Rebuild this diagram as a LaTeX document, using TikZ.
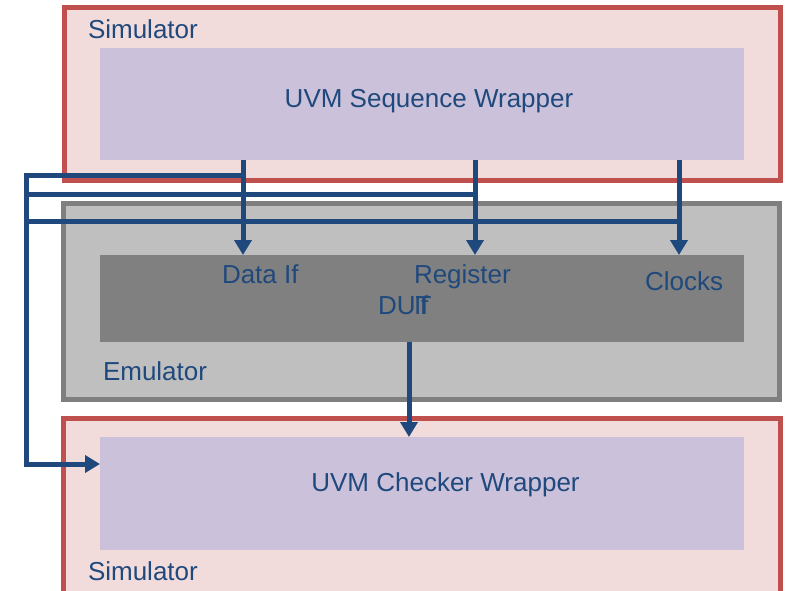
\documentclass[tikz,border=0pt]{standalone}
\usepackage{fontspec}
\setmainfont{Liberation Sans}
\usetikzlibrary{arrows.meta}
\definecolor{simfill}{RGB}{242,220,219}
\definecolor{simdraw}{RGB}{192,80,77}
\definecolor{lav}{RGB}{204,193,218}
\definecolor{emufill}{RGB}{191,191,191}
\definecolor{emudraw}{RGB}{127,127,127}
\definecolor{dutfill}{RGB}{128,128,128}
\definecolor{navy}{RGB}{31,73,125}
\begin{document}
\begin{tikzpicture}[x=1pt,y=-1pt,
  every node/.style={inner sep=0pt,outer sep=0pt},
  simbox/.style={rectangle,draw=simdraw,fill=simfill,line width=5pt},
  lavbox/.style={rectangle,fill=lav},
  emubox/.style={rectangle,draw=emudraw,fill=emufill,line width=5pt},
  dutbox/.style={rectangle,fill=dutfill},
  lbl/.style={text=navy,font=\fontsize{26}{31}\selectfont},
  conn/.style={draw=navy,line width=5pt,line join=miter},
  arr/.style={conn,-{Triangle[width=17pt,length=15pt]}}]
\useasboundingbox (0,0) rectangle (789,590);
\begin{scope}
\clip (0,0) rectangle (789,590);
% boxes
\node[simbox,minimum width=716pt,minimum height=173pt] (simtop) at (422.5,94) {};
\node[lavbox,minimum width=644pt,minimum height=112pt] (seq) at (422,104) {};
\node[emubox,minimum width=716pt,minimum height=196pt] (emu) at (421.5,301.5) {};
\node[dutbox,minimum width=644pt,minimum height=87pt] (dut) at (422,298.5) {};
\node[simbox,minimum width=717pt,minimum height=190pt] (simbot) at (421.5,513) {};
\node[lavbox,minimum width=644pt,minimum height=113pt] (chk) at (422,493.5) {};
\end{scope}
% texts
\node[lbl,anchor=base west] (tsim1) at (88,38) {Simulator};
\node[lbl,anchor=base] (tseq) at (429,107) {UVM Sequence Wrapper};
\node[lbl,anchor=base west] (tdata) at (222,283) {Data If};
\node[lbl,anchor=base west] (treg) at (414,283) {Register};
\node[lbl,anchor=base west] (tdut) at (378,314) {DUT};
\node[lbl,anchor=base west] (tif) at (414,314) {If};
\node[lbl,anchor=base west] (tclk) at (645,290) {Clocks};
\node[lbl,anchor=base west] (temu) at (103,380) {Emulator};
\node[lbl,anchor=base] (tchk) at (445.5,491) {UVM Checker Wrapper};
\node[lbl,anchor=base west] (tsim2) at (88,580) {Simulator};
% coordinates for connectors
\coordinate (x1) at (243,0);
\coordinate (x2) at (475,0);
\coordinate (x3) at (679,0);
\coordinate (x4) at (409,0);
\coordinate (xl) at (26,0);
\coordinate (h1) at (0,175);
\coordinate (h2) at (0,194);
\coordinate (h3) at (0,221);
\coordinate (h4) at (0,464);
% connectors
\draw[arr] (seq.south -| x1) -- (dut.north -| x1);
\draw[arr] (seq.south -| x2) -- (dut.north -| x2);
\draw[arr] (seq.south -| x3) -- (dut.north -| x3);
\draw[arr] (x1 |- h1) -- (xl |- h1) -- (xl |- h4) -- (chk.west |- h4);
\draw[conn] (x2 |- h2) -- (xl |- h2);
\draw[conn] (x3 |- h3) -- (xl |- h3);
\draw[arr] (dut.south -| x4) -- (chk.north -| x4);
\end{tikzpicture}
\end{document}
